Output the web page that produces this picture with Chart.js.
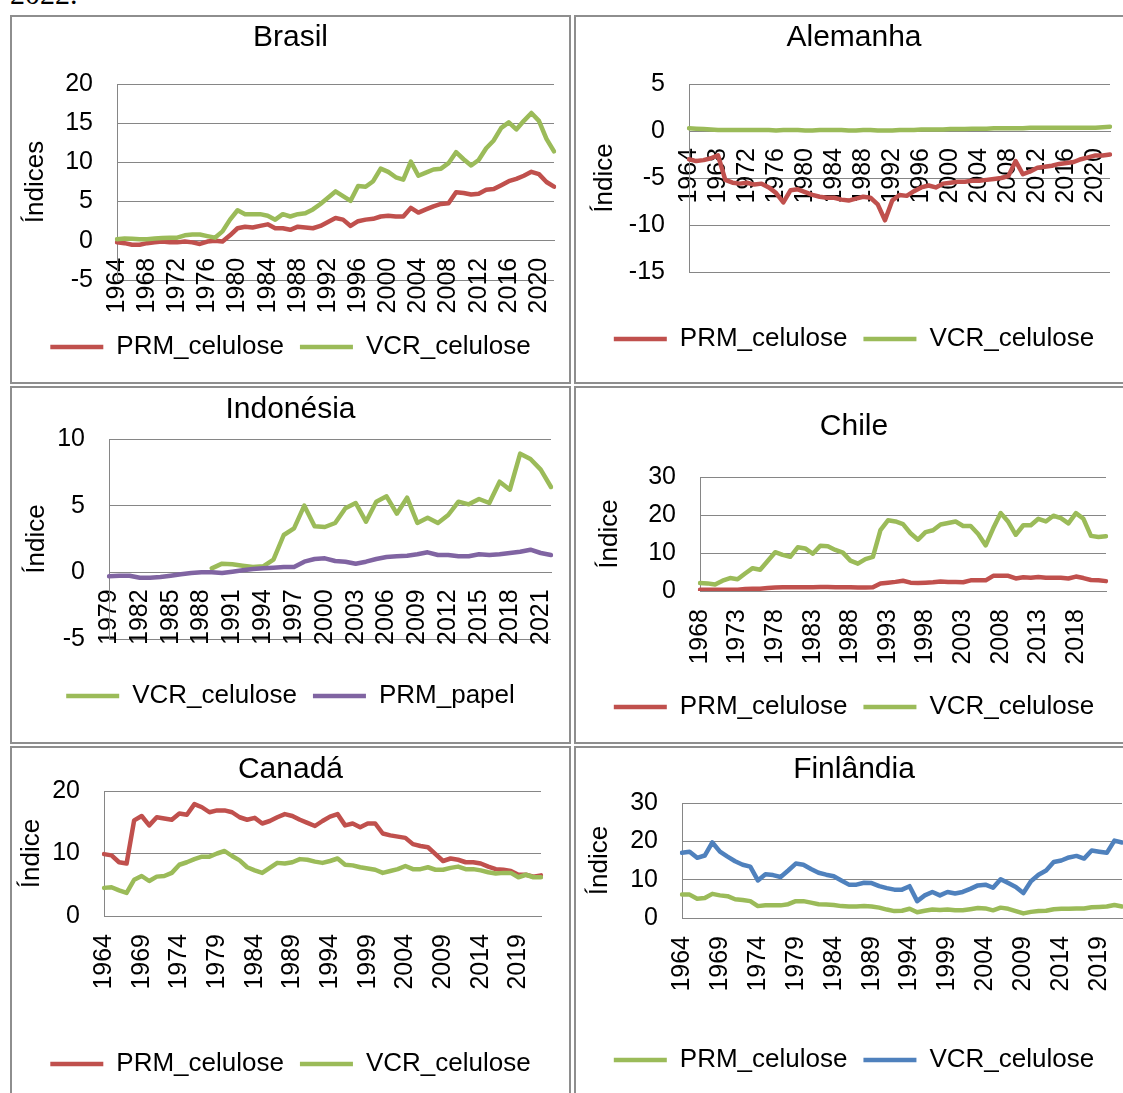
<!DOCTYPE html>
<html>
<head>
<meta charset="utf-8">
<script src="https://cdn.jsdelivr.net/npm/chart.js@4.4.1/dist/chart.umd.min.js"></script>
<style>
  body { margin: 0; background: #fff; width: 1123px; height: 1093px; overflow: hidden; position: relative; }
  .frame { position: absolute; border: 2px solid #8e8e8e; box-sizing: border-box; pointer-events: none; }
  canvas { position: absolute; }
  #cap { position: absolute; left: 10px; top: -21px; font: 30px/30px 'Liberation Serif', 'Times New Roman', serif; color: #000; }
</style>
</head>
<body>
<div id="cap">2022.</div>
<script>
// categorias (anos)
function span(a, b) { const out = []; for (let y = a; y <= b; y++) out.push(y); return out; }
const years6422 = span(1964, 2022);
const years7922 = span(1979, 2022);
const years6822 = span(1968, 2022);

// rótulos visíveis do eixo x
const ticks4from64 = [1964, 1968, 1972, 1976, 1980, 1984, 1988, 1992, 1996, 2000, 2004, 2008, 2012, 2016, 2020];
const ticks3from79 = [1979, 1982, 1985, 1988, 1991, 1994, 1997, 2000, 2003, 2006, 2009, 2012, 2015, 2018, 2021];
const ticks5from68 = [1968, 1973, 1978, 1983, 1988, 1993, 1998, 2003, 2008, 2013, 2018];
const ticks5from64 = [1964, 1969, 1974, 1979, 1984, 1989, 1994, 1999, 2004, 2009, 2014, 2019];

// Brasil
const brPRM = [-0.2, -0.3, -0.5, -0.5, -0.3, -0.2, -0.1, -0.2, -0.2, -0.1,
  -0.2, -0.4, -0.1, 0.0, -0.1, 0.7, 1.6, 1.8, 1.7, 1.9,
  2.1, 1.6, 1.6, 1.4, 1.8, 1.7, 1.6, 1.9, 2.4, 2.9,
  2.7, 1.9, 2.5, 2.7, 2.8, 3.1, 3.2, 3.1, 3.1, 4.2,
  3.6, 4.0, 4.4, 4.7, 4.8, 6.2, 6.1, 5.9, 6.0, 6.5,
  6.6, 7.1, 7.6, 7.9, 8.3, 8.8, 8.5, 7.5, 6.9];
const brVCR = [0.2, 0.3, 0.25, 0.2, 0.2, 0.3, 0.35, 0.4, 0.4, 0.7,
  0.8, 0.8, 0.6, 0.4, 1.2, 2.7, 3.9, 3.4, 3.4, 3.4,
  3.2, 2.7, 3.4, 3.1, 3.4, 3.5, 4.0, 4.7, 5.5, 6.3,
  5.7, 5.1, 7.0, 6.9, 7.6, 9.2, 8.8, 8.1, 7.8, 10.1,
  8.3, 8.7, 9.1, 9.2, 9.9, 11.3, 10.4, 9.6, 10.3, 11.8,
  12.8, 14.4, 15.1, 14.2, 15.3, 16.3, 15.3, 13.0, 11.4];

// Alemanha
const dePRM = [-3.0, -3.2, -3.1, -2.9, -2.6, -5.2, -5.5, -5.6, -5.5, -5.7,
  -5.6, -6.0, -6.6, -7.6, -6.3, -6.2, -6.5, -6.8, -7.0, -7.1,
  -7.1, -7.3, -7.4, -7.2, -7.0, -7.1, -7.8, -9.5, -7.4, -6.8,
  -6.9, -6.4, -6.0, -5.8, -6.0, -5.6, -5.5, -5.4, -5.4, -5.3,
  -5.3, -5.2, -5.1, -5.0, -4.8, -3.2, -4.6, -4.3, -3.9, -3.8,
  -3.7, -3.5, -3.4, -3.3, -3.0, -2.8, -2.6, -2.6, -2.5];
const deVCR = [0.3, 0.25, 0.2, 0.15, 0.1, 0.1, 0.1, 0.1, 0.1, 0.1,
  0.1, 0.1, 0.05, 0.1, 0.1, 0.1, 0.05, 0.05, 0.1, 0.1,
  0.1, 0.1, 0.05, 0.05, 0.1, 0.1, 0.05, 0.05, 0.05, 0.1,
  0.1, 0.1, 0.15, 0.15, 0.15, 0.15, 0.2, 0.2, 0.2, 0.25,
  0.25, 0.25, 0.3, 0.3, 0.3, 0.3, 0.3, 0.35, 0.35, 0.35,
  0.35, 0.35, 0.35, 0.35, 0.35, 0.35, 0.35, 0.4, 0.45];

// Indonésia
const idVCR = [null, null, null, null, null, null, null, null, null, null,
  0.3, 0.65, 0.6, 0.5, 0.4, 0.45, 0.95, 2.8, 3.3, 5.0,
  3.45, 3.4, 3.7, 4.8, 5.2, 3.8, 5.3, 5.7, 4.4, 5.6,
  3.7, 4.1, 3.7, 4.3, 5.3, 5.1, 5.5, 5.2, 6.8, 6.2,
  8.9, 8.5, 7.7, 6.4];
const idPapel = [-0.3, -0.25, -0.25, -0.4, -0.4, -0.35, -0.25, -0.15, -0.05, 0.0,
  0.0, -0.05, 0.05, 0.15, 0.25, 0.3, 0.35, 0.4, 0.4, 0.8,
  1.0, 1.05, 0.85, 0.8, 0.65, 0.8, 1.0, 1.15, 1.2, 1.25,
  1.35, 1.5, 1.3, 1.3, 1.2, 1.2, 1.35, 1.3, 1.35, 1.45,
  1.55, 1.7, 1.45, 1.3];

// Chile
const clPRM = [0.3, 0.3, 0.3, 0.3, 0.3, 0.35, 0.5, 0.6, 0.6, 0.8,
  0.9, 1.0, 1.0, 1.0, 1.0, 1.0, 1.05, 1.05, 1.0, 1.0,
  1.0, 0.9, 0.9, 1.0, 2.0, 2.2, 2.4, 2.7, 2.2, 2.1,
  2.2, 2.3, 2.5, 2.4, 2.4, 2.3, 2.8, 2.8, 2.8, 4.0,
  4.0, 4.0, 3.3, 3.6, 3.5, 3.7, 3.5, 3.5, 3.5, 3.3,
  3.8, 3.4, 2.9, 2.8, 2.6];
const clVCR = [2.1, 2.0, 1.7, 2.7, 3.4, 3.1, 4.6, 6.0, 5.6, 7.9,
  10.2, 9.5, 9.0, 11.5, 11.2, 9.8, 11.9, 11.8, 10.8, 10.1,
  8.0, 7.2, 8.4, 9.0, 16.0, 18.6, 18.3, 17.6, 15.2, 13.5,
  15.5, 16.0, 17.5, 17.9, 18.3, 17.1, 17.1, 15.0, 12.0, 16.5,
  20.5, 18.2, 14.8, 17.3, 17.3, 19.0, 18.3, 19.8, 19.2, 17.8,
  20.5, 19.0, 14.5, 14.2, 14.4];

// Canadá
const caPRM = [9.9, 9.7, 8.6, 8.4, 15.3, 16.0, 14.5, 15.8, 15.6, 15.4,
  16.4, 16.2, 17.9, 17.4, 16.6, 16.9, 16.9, 16.6, 15.8, 15.4,
  15.7, 14.8, 15.2, 15.8, 16.3, 16.0, 15.4, 14.9, 14.4, 15.2,
  15.9, 16.3, 14.5, 14.8, 14.2, 14.8, 14.8, 13.2, 12.9, 12.7,
  12.5, 11.5, 11.2, 11.0, 9.9, 8.8, 9.2, 9.0, 8.6, 8.6,
  8.4, 7.9, 7.5, 7.4, 7.2, 6.6, 6.6, 6.3, 6.5];
const caVCR = [4.5, 4.6, 4.1, 3.7, 5.8, 6.4, 5.6, 6.3, 6.4, 6.9,
  8.2, 8.6, 9.1, 9.5, 9.5, 10.0, 10.4, 9.6, 8.9, 7.8,
  7.3, 6.9, 7.7, 8.5, 8.4, 8.6, 9.1, 9.0, 8.7, 8.5,
  8.8, 9.2, 8.2, 8.1, 7.8, 7.6, 7.4, 6.9, 7.2, 7.5,
  8.0, 7.5, 7.5, 7.8, 7.4, 7.4, 7.7, 7.9, 7.5, 7.5,
  7.3, 7.0, 6.8, 6.9, 6.9, 6.2, 6.6, 6.2, 6.2];

// Finlândia
const fiPRM = [6.1, 6.1, 5.0, 5.2, 6.3, 5.9, 5.7, 4.9, 4.7, 4.4,
  3.1, 3.3, 3.3, 3.3, 3.6, 4.4, 4.4, 4.0, 3.6, 3.5,
  3.4, 3.1, 3.0, 3.0, 3.1, 3.0, 2.7, 2.2, 1.8, 1.9,
  2.4, 1.5, 1.9, 2.2, 2.1, 2.2, 2.0, 2.0, 2.3, 2.6,
  2.5, 2.0, 2.7, 2.4, 1.8, 1.2, 1.6, 1.8, 1.9, 2.3,
  2.4, 2.4, 2.5, 2.5, 2.8, 2.9, 3.0, 3.4, 3.0];
const fiVCR = [17.0, 17.3, 15.7, 16.3, 19.7, 17.3, 16.0, 14.8, 13.9, 13.4,
  9.8, 11.4, 11.2, 10.7, 12.4, 14.2, 13.9, 12.8, 11.8, 11.3,
  10.9, 9.8, 8.7, 8.7, 9.2, 9.1, 8.3, 7.8, 7.4, 7.4,
  8.3, 4.4, 5.9, 6.8, 5.9, 6.8, 6.4, 6.8, 7.6, 8.5,
  8.7, 7.9, 10.1, 9.1, 8.1, 6.5, 9.6, 11.3, 12.4, 14.6,
  15.0, 15.8, 16.2, 15.5, 17.6, 17.3, 17.0, 20.2, 19.7];

const RED = '#c0504d', GREEN = '#9bbb59', PURPLE = '#8064a2', BLUE = '#4f81bd';
const GRID = '#868686';

Chart.defaults.font.family = "'Liberation Sans', Arial, sans-serif";
Chart.defaults.color = '#000';

function panel(p) {
  const cv = document.createElement('canvas');
  cv.width = p.w; cv.height = p.h;
  cv.style.left = p.x + 'px'; cv.style.top = p.y + 'px';
  document.body.appendChild(cv);
  const fr = document.createElement('div');
  fr.className = 'frame';
  fr.style.left = p.x + 'px'; fr.style.top = p.y + 'px';
  fr.style.width = p.w + 'px'; fr.style.height = p.h + 'px';
  document.body.appendChild(fr);

  const scales = {
    x: {
      // eixo horizontal cruza em 0 quando há valores negativos
      position: p.cross ? { y: 0 } : 'bottom',
      grid: { display: false, drawTicks: false, tickLength: 0 },
      border: { display: true, color: GRID, width: 1 },
      ticks: {
        autoSkip: false,
        minRotation: 90,
        maxRotation: 90,
        padding: p.xPad,
        font: { size: 25 },
        callback: (v, i) => p.ticks.includes(p.years[i]) ? String(p.years[i]) : ''
      },
      afterFit: s => { if (!p.cross) s.height = p.xH; s.paddingLeft = 0; s.paddingRight = 0; }
    },
    y: {
      min: p.min, max: p.max,
      ticks: { stepSize: p.step, padding: 24, font: { size: 25 } },
      grid: { color: GRID, lineWidth: 1, drawTicks: false, tickLength: 0 },
      border: { display: true, color: GRID, width: 1 },
      title: { display: true, text: p.yTitle, font: { size: 26 }, padding: { top: p.yt, bottom: 0 } },
      afterFit: s => { s.width = p.yW; }
    },
    // espaço vazio à direita da área do gráfico
    rs: {
      axis: 'y', position: 'right',
      grid: { display: false, drawTicks: false }, border: { display: false }, ticks: { display: false },
      afterFit: s => { s.width = p.padR; }
    }
  };
  if (p.cross) {
    // espaço entre a área do gráfico e a legenda
    scales.gap = {
      axis: 'x', type: 'category', position: 'bottom',
      grid: { display: false, drawTicks: false }, border: { display: false }, ticks: { display: false },
      afterFit: s => { s.height = p.xH; s.paddingLeft = 0; s.paddingRight = 0; }
    };
  }

  new Chart(cv, {
    type: 'line',
    data: {
      labels: p.years,
      datasets: p.series.map((s, i) => ({
        label: s.label,
        data: s.data,
        xAxisID: 'x',
        yAxisID: 'y',
        borderColor: s.color,
        backgroundColor: s.color,
        borderWidth: 4.5,
        borderCapStyle: 'round',
        borderJoinStyle: 'round',
        pointRadius: 0,
        tension: 0,
        fill: false,
        order: p.series.length - i
      }))
    },
    options: {
      responsive: false,
      animation: false,
      layout: { padding: { left: 0, top: 0, right: 0, bottom: p.padB } },
      plugins: {
        title: {
          display: true,
          text: p.title,
          font: { size: 30, weight: 'normal' },
          padding: { top: p.tt, bottom: p.tb }
        },
        legend: {
          position: 'bottom',
          labels: {
            usePointStyle: true,
            pointStyle: 'line',
            pointStyleWidth: 53,
            font: { size: 26 },
            padding: 16,
            sort: (a, b) => a.datasetIndex - b.datasetIndex
          }
        },
        tooltip: { enabled: false }
      },
      scales: scales
    }
  });
}

panel({ x: 10, y: 15, w: 561, h: 369, title: 'Brasil', yTitle: 'Índices', years: years6422, ticks: ticks4from64,
  series: [{ label: 'PRM_celulose', data: brPRM, color: RED }, { label: 'VCR_celulose', data: brVCR, color: GREEN }],
  min: -5, max: 20, step: 5, cross: true, tt: 5, tb: 28, padR: 17, padB: 14, yW: 107, yt: 10, xPad: 17, xH: 38 });

panel({ x: 574, y: 15, w: 560, h: 369, title: 'Alemanha', yTitle: 'Índice', years: years6422, ticks: ticks4from64,
  series: [{ label: 'PRM_celulose', data: dePRM, color: RED }, { label: 'VCR_celulose', data: deVCR, color: GREEN }],
  min: -15, max: 5, step: 5, cross: true, tt: 5, tb: 28, padR: 24, padB: 22, yW: 115, yt: 15, xPad: 17, xH: 38 });

panel({ x: 10, y: 386, w: 561, h: 358, title: 'Indonésia', yTitle: 'Índice', years: years7922, ticks: ticks3from79,
  series: [{ label: 'VCR_celulose', data: idVCR, color: GREEN }, { label: 'PRM_papel', data: idPapel, color: PURPLE }],
  min: -5, max: 10, step: 5, cross: true, tt: 6, tb: 11, padR: 20, padB: 25, yW: 99, yt: 11, xPad: 17, xH: 28 });

panel({ x: 574, y: 386, w: 560, h: 358, title: 'Chile', yTitle: 'Índice', years: years6822, ticks: ticks5from68,
  series: [{ label: 'PRM_celulose', data: clPRM, color: RED }, { label: 'VCR_celulose', data: clVCR, color: GREEN }],
  min: 0, max: 30, step: 10, tt: 23, tb: 32, padR: 28, padB: 14, yW: 126, yt: 20, xPad: 18, xH: 87 });

panel({ x: 10, y: 746, w: 561, h: 360, title: 'Canadá', yTitle: 'Índice', years: years6422, ticks: ticks5from64,
  series: [{ label: 'PRM_celulose', data: caPRM, color: RED }, { label: 'VCR_celulose', data: caVCR, color: GREEN }],
  min: 0, max: 20, step: 10, tt: 6, tb: 3, padR: 30, padB: 19, yW: 94, yt: 6, xPad: 18, xH: 119 });

panel({ x: 574, y: 746, w: 560, h: 360, title: 'Finlândia', yTitle: 'Índice', years: years6422, ticks: ticks5from64,
  series: [{ label: 'PRM_celulose', data: fiPRM, color: GREEN }, { label: 'VCR_celulose', data: fiVCR, color: BLUE }],
  min: 0, max: 30, step: 10, tt: 6, tb: 15, padR: 12, padB: 23, yW: 108, yt: 10, xPad: 18, xH: 113 });
</script>
</body>
</html>
